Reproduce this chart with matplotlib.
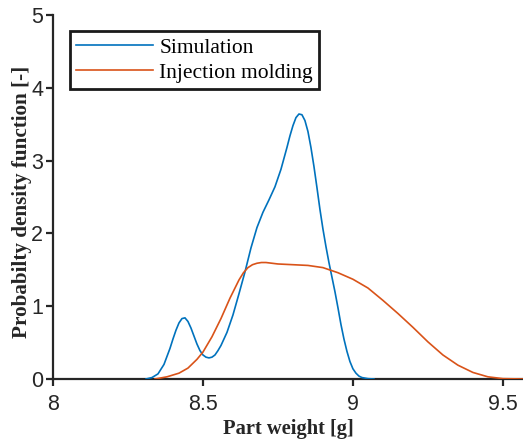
import matplotlib
matplotlib.use('Agg')
import matplotlib.pyplot as plt

# === Данные ===
sim_x = [8.31, 8.33, 8.35, 8.37, 8.39, 8.40, 8.41, 8.42, 8.43, 8.44, 8.45,
         8.46, 8.47, 8.48, 8.49, 8.50, 8.51, 8.52, 8.53, 8.54, 8.55, 8.56,
         8.58, 8.60, 8.62, 8.64, 8.66, 8.68, 8.70, 8.72, 8.74, 8.76, 8.78,
         8.79, 8.80, 8.81, 8.82, 8.83, 8.84, 8.85, 8.86, 8.87, 8.88, 8.89,
         8.90, 8.91, 8.92, 8.93, 8.94, 8.95, 8.96, 8.97, 8.98, 8.99, 9.00,
         9.01, 9.02, 9.03, 9.05, 9.07]
sim_y = [0.0, 0.02, 0.07, 0.20, 0.42, 0.55, 0.67, 0.77, 0.83, 0.84, 0.79,
         0.70, 0.59, 0.48, 0.39, 0.33, 0.30, 0.29, 0.30, 0.33, 0.39, 0.46,
         0.64, 0.88, 1.17, 1.47, 1.80, 2.08, 2.29, 2.46, 2.64, 2.88, 3.18,
         3.34, 3.48, 3.59, 3.64, 3.63, 3.55, 3.40, 3.18, 2.92, 2.63, 2.33,
         2.06, 1.82, 1.60, 1.40, 1.20, 0.98, 0.75, 0.55, 0.38, 0.24, 0.14,
         0.08, 0.04, 0.02, 0.005, 0.0]

mold_x = [8.34, 8.38, 8.42, 8.45, 8.48, 8.50, 8.53, 8.56, 8.59, 8.62, 8.635,
          8.65, 8.665, 8.68, 8.695, 8.71, 8.75, 8.80, 8.85, 8.90, 8.95, 9.00,
          9.05, 9.10, 9.15, 9.20, 9.25, 9.30, 9.35, 9.40, 9.45, 9.50, 9.57]
mold_y = [0.0, 0.03, 0.08, 0.15, 0.27, 0.37, 0.58, 0.83, 1.11, 1.36, 1.46,
          1.53, 1.57, 1.59, 1.60, 1.60, 1.58, 1.57, 1.56, 1.53, 1.46, 1.37,
          1.25, 1.08, 0.90, 0.71, 0.51, 0.33, 0.19, 0.09, 0.03, 0.005, 0.0]

x_ticks = [8, 8.5, 9, 9.5]
x_tick_labels = ['8', '8.5', '9', '9.5']
y_ticks = [0, 1, 2, 3, 4, 5]

# === График ===
fig = plt.figure(figsize=(5.23, 4.40), dpi=100)
ax = fig.add_axes([53/523, 1 - 379/440, 470/523, 364/440])

ax.plot(sim_x, sim_y, color='#0072BD', linewidth=1.2, label='Simulation')
ax.plot(mold_x, mold_y, color='#D95319', linewidth=1.2, label='Injection molding')

ax.set_xlim(8, 9.567)
ax.set_ylim(0, 5)
ax.set_xticks(x_ticks)
ax.set_xticklabels(x_tick_labels)
ax.set_yticks(y_ticks)

for side in ['top', 'right']:
    ax.spines[side].set_visible(False)
for side in ['left', 'bottom']:
    ax.spines[side].set_linewidth(1.6)
    ax.spines[side].set_color('#262626')
    ax.spines[side].set_zorder(1)

ax.tick_params(direction='out', length=5, width=1.6, color='#262626',
               labelsize=15.5, labelcolor='#262626')
ax.tick_params(axis='x', pad=6)
ax.tick_params(axis='y', pad=2)
for lbl in ax.get_xticklabels() + ax.get_yticklabels():
    lbl.set_family('Liberation Sans')

ax.set_xlabel('Part weight [g]', fontsize=14.8, fontweight='bold',
              family='Liberation Serif', color='#262626')
ax.set_ylabel('Probabilty density function [-]', fontsize=15.2, fontweight='bold',
              family='Liberation Serif', color='#262626')
ax.xaxis.set_label_coords(0.5, -0.11)
ax.yaxis.set_label_coords(-0.045, 0.487)

leg = ax.legend(loc='upper left', bbox_to_anchor=(70/523, 1 - 31/440),
                bbox_transform=fig.transFigure, fancybox=False, framealpha=1,
                edgecolor='#1a1a1a', borderpad=0.3, handlelength=3.55,
                handletextpad=0.3, labelspacing=0.25, borderaxespad=0,
                prop={'family': 'Liberation Serif', 'size': 15.5})
leg.get_frame().set_linewidth(2.0)

plt.savefig('out.png', dpi=100)
